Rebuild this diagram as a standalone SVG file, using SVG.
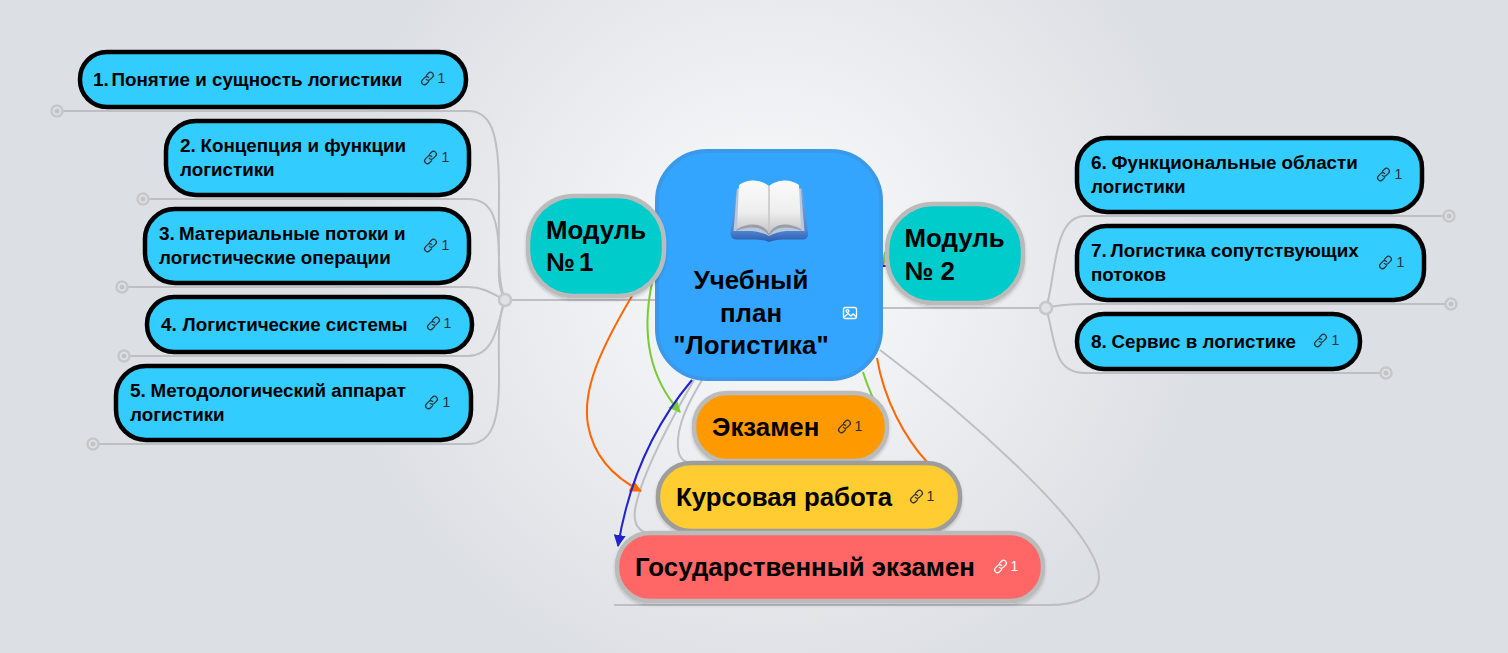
<svg xmlns="http://www.w3.org/2000/svg" width="1508" height="653" viewBox="0 0 1508 653">
<style>
text{font-family:"Liberation Sans",Arial,sans-serif;font-weight:bold;fill:#000}
.t{font-size:18.8px}.n{font-size:19px}
.m{font-size:25.85px}.c{font-size:25.85px}
.b{fill:#33ccff;stroke:#000;stroke-width:4.5}
.g{stroke:#bbb;stroke-width:4.5}
.cn{fill:none;stroke:#bdbfc2;stroke-width:2}
.dot{fill:#dfe1e5;stroke:#c6c7ca;stroke-width:2.5}
.dc{fill:#c2c3c6}
.a{fill:none;stroke-width:2}
.lk{font-size:14px;font-weight:normal;fill:#2d3036}
</style>
<defs>
<radialGradient id="bg" gradientUnits="userSpaceOnUse" cx="770" cy="265" r="440">
<stop offset="0" stop-color="#ffffff"/><stop offset=".3" stop-color="#f2f3f5"/><stop offset="1" stop-color="#dcdfe4"/>
</radialGradient>
<linearGradient id="pg" x1="0" y1="0" x2="0" y2="1"><stop offset="0" stop-color="#fbfbfb"/><stop offset=".6" stop-color="#eeeeef"/><stop offset="1" stop-color="#c4c4c6"/></linearGradient>
<linearGradient id="cv" x1="0" y1="0" x2="0" y2="1"><stop offset="0" stop-color="#7fa8e0"/><stop offset=".8" stop-color="#4f83d0"/><stop offset="1" stop-color="#2a5cae"/></linearGradient>
<filter id="sh" x="-10%" y="-15%" width="120%" height="135%"><feDropShadow dx="0" dy="2" stdDeviation="1.5" flood-color="#000" flood-opacity=".18"/></filter>
<symbol id="link" viewBox="0 0 16 16" overflow="visible"><g fill="none" stroke="currentColor" stroke-width="1.3" stroke-linecap="round">
<path d="M6.8 4.6 9 2.4a3 3 0 0 1 4.4 4.2l-2.4 2.4a3 3 0 0 1-4.3 0"/><path d="M9.2 11.4 7 13.6a3 3 0 0 1-4.4-4.2L5 7a3 3 0 0 1 4.3 0"/></g></symbol>
<marker id="ao" viewBox="0 0 12 12" refX="11" refY="6" markerWidth="12" markerHeight="12" markerUnits="userSpaceOnUse" orient="auto"><path d="M0 0 12 6 0 12z" fill="#ff6600"/></marker>
<marker id="ag" viewBox="0 0 12 12" refX="11" refY="6" markerWidth="12" markerHeight="12" markerUnits="userSpaceOnUse" orient="auto"><path d="M0 0 12 6 0 12z" fill="#77cc33"/></marker>
<marker id="ab" viewBox="0 0 12 12" refX="11" refY="6" markerWidth="12" markerHeight="12" markerUnits="userSpaceOnUse" orient="auto"><path d="M0 0 12 6 0 12z" fill="#2222cc"/></marker>
</defs>
<rect width="1508" height="653" fill="url(#bg)"/>
<g id="connectors">
<path class="cn" d="M505 300H656"/>
<path class="cn" d="M505 300C497 280 499 250 499 190C499 130 490 111 468 111H62"/>
<path class="cn" d="M505 300C497 285 499 270 499 260C499 215 490 199 468 199H148"/>
<path class="cn" d="M505 300C490 292 482 287 468 287H127"/>
<path class="cn" d="M505 300C497 325 495 356 468 356H129"/>
<path class="cn" d="M505 300C497 320 499 340 499 380C499 425 490 444 468 444H98"/>
<path class="cn" d="M883 308H1046"/>
<path class="cn" d="M1046 308C1056 280 1052 216 1085 216H1443"/>
<path class="cn" d="M1046 308C1058 305 1066 304 1085 304H1445"/>
<path class="cn" d="M1046 308C1056 340 1052 373 1085 373H1380"/>
<path class="cn" d="M702 380C690 400 676 425 678 448C679 458 683 462 692 463"/>
<path class="cn" d="M694 380C665 430 640 480 635 510C633 525 640 532 650 534"/>
<path class="cn" d="M880 350C960 410 1099 530 1099 577C1099 597 1075 605 1050 605H614"/>
<path class="a" stroke="#ff6600" d="M632 296C600 350 582 390 588 425C594 458 615 478 641 491" marker-end="url(#ao)"/>
<path class="a" stroke="#ff6600" d="M877 358C884 400 905 438 927 462"/>
<path class="a" stroke="#77cc33" d="M652 283C642 330 648 376 680 412" marker-end="url(#ag)"/>
<path class="a" stroke="#77cc33" d="M863 372C867 385 872 398 883 417" marker-end="url(#ag)"/>
<path class="a" stroke="#2222cc" d="M692 380C650 430 628 485 618 546" marker-end="url(#ab)"/>
<path class="a" stroke="#ff6600" d="M883 267L885 253"/>
<path class="a" stroke="#77cc33" d="M884 262L885 252"/>
<path class="a" stroke="#2222cc" d="M882 266H886"/>
<circle class="dot" cx="505" cy="300" r="6"/><circle class="dot" cx="1046" cy="308" r="6"/>
<circle class="dot" cx="57" cy="111" r="5.5"/><circle class="dc" cx="57" cy="111" r="2.5"/>
<circle class="dot" cx="143" cy="199" r="5.5"/><circle class="dc" cx="143" cy="199" r="2.5"/>
<circle class="dot" cx="122" cy="287" r="5.5"/><circle class="dc" cx="122" cy="287" r="2.5"/>
<circle class="dot" cx="124" cy="356" r="5.5"/><circle class="dc" cx="124" cy="356" r="2.5"/>
<circle class="dot" cx="93" cy="444" r="5.5"/><circle class="dc" cx="93" cy="444" r="2.5"/>
<circle class="dot" cx="1449" cy="216" r="5.5"/><circle class="dc" cx="1449" cy="216" r="2.5"/>
<circle class="dot" cx="1451" cy="304" r="5.5"/><circle class="dc" cx="1451" cy="304" r="2.5"/>
<circle class="dot" cx="1386" cy="373" r="5.5"/><circle class="dc" cx="1386" cy="373" r="2.5"/>
</g>
<g id="n1"><rect class="b" x="80" y="52" width="386" height="55" rx="27"/><text class="t" x="93" y="86"><tspan class="n">1.</tspan><tspan x="111.500">Понятие и сущность логистики</tspan></text><use href="#link" x="420" y="71" width="15" height="15" color="#2d3036"/><text class="lk" x="437.500" y="83">1</text></g>
<g id="n2"><rect class="b" x="166" y="121" width="303" height="74" rx="30"/><text class="t" x="180" y="152"><tspan class="n">2.</tspan><tspan x="200.500">Концепция и функции</tspan></text><text class="t" x="180" y="176">логистики</text><use href="#link" x="423" y="150" width="15" height="15" color="#2d3036"/><text class="lk" x="441.500" y="162">1</text></g>
<g id="n3"><rect class="b" x="145" y="209" width="324" height="74" rx="30"/><text class="t" x="159" y="240"><tspan class="n">3.</tspan><tspan x="179">Материальные потоки и</tspan></text><text class="t" x="159" y="264">логистические операции</text><use href="#link" x="423" y="238" width="15" height="15" color="#2d3036"/><text class="lk" x="441.500" y="250">1</text></g>
<g id="n4"><rect class="b" x="147" y="297" width="325" height="55" rx="27"/><text class="t" x="161" y="331"><tspan class="n">4.</tspan><tspan x="182.500">Логистические системы</tspan></text><use href="#link" x="426" y="316" width="15" height="15" color="#2d3036"/><text class="lk" x="443.500" y="328">1</text></g>
<g id="n5"><rect class="b" x="116" y="366" width="355" height="74" rx="30"/><text class="t" x="130" y="397"><tspan class="n">5.</tspan><tspan x="150.500">Методологический аппарат</tspan></text><text class="t" x="130" y="421">логистики</text><use href="#link" x="424" y="395" width="15" height="15" color="#2d3036"/><text class="lk" x="442.500" y="407">1</text></g>
<g id="n6"><rect class="b" x="1077" y="138" width="345" height="74" rx="30"/><text class="t" x="1091" y="169"><tspan class="n">6.</tspan><tspan x="1111.500">Функциональные области</tspan></text><text class="t" x="1091" y="193">логистики</text><use href="#link" x="1376" y="167" width="15" height="15" color="#2d3036"/><text class="lk" x="1394.500" y="179">1</text></g>
<g id="n7"><rect class="b" x="1077" y="226" width="347" height="74" rx="30"/><text class="t" x="1091" y="257"><tspan class="n">7.</tspan><tspan x="1110.500">Логистика сопутствующих</tspan></text><text class="t" x="1091" y="281">потоков</text><use href="#link" x="1378" y="255" width="15" height="15" color="#2d3036"/><text class="lk" x="1396.500" y="267">1</text></g>
<g id="n8"><rect class="b" x="1077" y="314" width="283" height="55" rx="27"/><text class="t" x="1091" y="348"><tspan class="n">8.</tspan><tspan x="1111.500">Сервис в логистике</tspan></text><use href="#link" x="1313" y="333" width="15" height="15" color="#2d3036"/><text class="lk" x="1331.500" y="345">1</text></g>
<g id="exam"><rect class="g" x="694" y="393" width="193" height="68" rx="33" fill="#ff9900" filter="url(#sh)"/><text class="m" x="712" y="436">Экзамен</text><use href="#link" x="837" y="419" width="15" height="15" color="#2d3036"/><text class="lk" x="854.500" y="431">1</text></g>
<g id="course"><rect x="658" y="463" width="302" height="68" rx="33" fill="#ffcc33" stroke="#9d9d9d" stroke-width="4.5" filter="url(#sh)"/><text class="m" x="676" y="506">Курсовая работа</text><use href="#link" x="909" y="489" width="15" height="15" color="#2d3036"/><text class="lk" x="926.500" y="501">1</text></g>
<g id="gos"><rect class="g" x="617" y="533" width="426" height="68" rx="33" fill="#ff6666" filter="url(#sh)"/><text class="m" x="635" y="576">Государственный экзамен</text><use href="#link" x="993" y="559" width="15" height="15" color="#fff"/><text class="lk" x="1010.500" y="571" style="fill:#fff">1</text></g>
<g id="center"><rect x="657" y="151" width="224" height="228" rx="50" fill="#33a5ff" stroke="#3a99e8" stroke-width="4"/>
<path d="M737 188 730.500 232Q730 238 735 239.500H751Q762 239 769 242Q776 239 787 239.500H804Q809 238 808 232L802 188Z" fill="url(#cv)"/>
<path d="M737 189 733.500 231 752 231Q762 232 769 236Q776 232 786 231L804.500 231 801 189Z" fill="#b5c8de"/>
<path d="M739 185Q746 180 754 180.500Q763 181 769 186Q775 181 784 180.500Q792 180 799 185L801 229Q790 223 780 225Q773 227 769 233Q765 227 758 225Q748 223 737 229Z" fill="url(#pg)"/>
<path d="M737 229Q748 223 758 225Q765 227 769 233Q773 227 780 225Q790 223 801 229L802 231Q790 226 780 228Q773 230 769 236Q765 230 758 228Q748 226 736 231Z" fill="#9c9ea2"/>
<path d="M769 186V233" stroke="#c4c4c6" stroke-width="1.500" fill="none"/>
<text class="c" x="751" y="289" text-anchor="middle">Учебный</text><text class="c" x="751" y="322" text-anchor="middle">план</text><text class="c" x="751" y="354" text-anchor="middle">"Логистика"</text>
<g fill="none" stroke="#fff" stroke-width="1.3"><rect x="843.5" y="307.5" width="13" height="11" rx="2"/><circle cx="847.500" cy="311" r="1.400"/><path d="M844 317 848 313.500 851 316 853 314 856 316.500"/></g></g>
<g id="m1"><rect class="g" x="528" y="196" width="136" height="100" rx="46" fill="#00cccc" filter="url(#sh)"/><text class="m" x="546" y="239">Модуль</text><text class="m" x="546" y="271">№ <tspan dx="-3">1</tspan></text></g>
<g id="m2"><rect class="g" x="887" y="204" width="136" height="99" rx="46" fill="#00cccc" filter="url(#sh)"/><text class="m" x="904.500" y="247">Модуль</text><text class="m" x="904.500" y="279.500">№ 2</text></g>
</svg>
